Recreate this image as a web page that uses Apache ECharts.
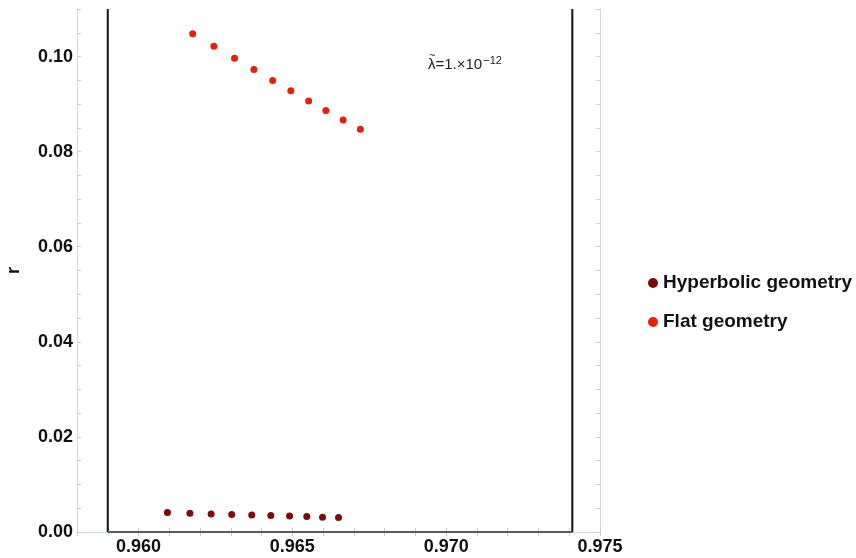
<!DOCTYPE html>
<html>
<head>
<meta charset="utf-8">
<script src="https://cdn.jsdelivr.net/npm/echarts@6/dist/echarts.min.js"></script>
<style>html,body{margin:0;padding:0;background:#fff;}#c{width:856px;height:558px;}</style>
</head>
<body>
<div id="c"></div>
<script>
// Data
const seriesNames = ['Hyperbolic geometry', 'Flat geometry'];
const hypNs = [0.96094, 0.96167, 0.96236, 0.96303, 0.96368, 0.96430, 0.96491, 0.96547, 0.96598, 0.96650];
const hypR  = [0.00408, 0.00394, 0.00379, 0.00366, 0.00358, 0.00345, 0.00337, 0.00324, 0.00309, 0.00303];
const flatNs = [0.96176, 0.96245, 0.96312, 0.96375, 0.96436, 0.96495, 0.96553, 0.96609, 0.96665, 0.96721];
const flatR  = [0.10478, 0.10219, 0.09966, 0.09726, 0.09495, 0.09278, 0.09067, 0.08863, 0.08667, 0.08472];
const boundNs = [0.959, 0.9741];   // vertical bounds
const xRange = [0.958, 0.975];
const yRange = [0, 0.11];
const annotation = ['λ', '=1.×10', '−12', '~'];

const zip = (a, b) => a.map((v, i) => [v, b[i]]);
const font = '"Liberation Sans", Arial, sans-serif';
const frameColor = '#d4d7dd';
const tickStyle = { show: true, inside: true, length: 4, lineStyle: { color: '#c8ccd3', width: 1 } };
const labelStyle = { fontFamily: font, fontWeight: 'bold', fontSize: 18, color: '#111' };

const chart = echarts.init(document.getElementById('c'), null, { renderer: 'canvas' });
chart.setOption({
  animation: false,
  backgroundColor: '#fff',
  grid: { left: 77, right: 256, top: 9, bottom: 26, show: false, containLabel: false, outerBoundsMode: 'none' },
  xAxis: [
    {
      type: 'value', min: xRange[0], max: xRange[1], interval: 0.001, position: 'bottom',
      axisLine: { show: true, lineStyle: { color: frameColor, width: 1 } },
      axisTick: tickStyle, splitLine: { show: false },
      axisLabel: Object.assign({ margin: 6, formatter: v => (Math.round(v * 1000) % 5 === 0 ? v.toFixed(3) : '') }, labelStyle)
    },
    {
      type: 'value', min: xRange[0], max: xRange[1], interval: 0.001, position: 'top',
      axisLine: { show: true, lineStyle: { color: frameColor, width: 1 } },
      axisTick: tickStyle, splitLine: { show: false }, axisLabel: { show: false }
    }
  ],
  yAxis: [
    {
      type: 'value', min: yRange[0], max: yRange[1], interval: 0.005, position: 'left',
      name: 'r', nameLocation: 'middle', nameRotate: 90, nameGap: 54,
      nameTextStyle: { fontFamily: font, fontWeight: 'bold', fontSize: 18, color: '#111' },
      axisLine: { show: true, lineStyle: { color: frameColor, width: 1 } },
      axisTick: tickStyle, splitLine: { show: false },
      axisLabel: Object.assign({ margin: 4, formatter: v => (Math.round(v * 1000) % 20 === 0 ? v.toFixed(2) : '') }, labelStyle)
    },
    {
      type: 'value', min: yRange[0], max: yRange[1], interval: 0.005, position: 'right',
      axisLine: { show: true, lineStyle: { color: frameColor, width: 1 } },
      axisTick: tickStyle, splitLine: { show: false }, axisLabel: { show: false }
    }
  ],
  legend: {
    data: seriesNames.map(n => ({ name: n, icon: 'circle' })),
    orient: 'vertical', left: 643, top: 268,
    itemWidth: 10, itemHeight: 10, itemGap: 19, itemTextGap: 10,
    textStyle: { fontFamily: font, fontWeight: 'bold', fontSize: 19, color: '#111', lineHeight: 20 }
  },
  graphic: [
    {
      type: 'text', left: 428, top: 55,
      style: {
        rich: {
          a: { fontFamily: font, fontSize: 15, fill: '#222' },
          s: { fontFamily: font, fontSize: 11, fill: '#222', verticalAlign: 'top', padding: [0, 0, 8, 1] }
        },
        text: '{a|' + annotation[0] + annotation[1] + '}{s|' + annotation[2] + '}'
      }
    },
    {
      type: 'text', left: 429, top: 50,
      style: { text: annotation[3], fontFamily: font, fontSize: 11, fill: '#222' }
    }
  ],
  series: [
    {
      name: 'bounds', type: 'line', xAxisIndex: 0, yAxisIndex: 0, silent: true, symbol: 'none',
      lineStyle: { color: '#111', width: 2 }, clip: false,
      data: [[boundNs[0], yRange[1]], [boundNs[0], yRange[0]]]
    },
    {
      name: 'bounds2', type: 'line', xAxisIndex: 0, yAxisIndex: 0, silent: true, symbol: 'none',
      lineStyle: { color: '#111', width: 2 }, clip: false,
      data: [[boundNs[1], yRange[1]], [boundNs[1], yRange[0]]]
    },
    {
      name: 'bottom', type: 'line', xAxisIndex: 0, yAxisIndex: 0, silent: true, symbol: 'none',
      lineStyle: { color: '#55596a', width: 2 }, clip: false,
      data: [[boundNs[0], yRange[0]], [boundNs[1], yRange[0]]]
    },
    {
      name: seriesNames[0], type: 'scatter', xAxisIndex: 0, yAxisIndex: 0,
      symbol: 'circle', symbolSize: 7,
      itemStyle: { color: '#7d0a0c', opacity: 1 },
      data: zip(hypNs, hypR)
    },
    {
      name: seriesNames[1], type: 'scatter', xAxisIndex: 0, yAxisIndex: 0,
      symbol: 'circle', symbolSize: 7,
      itemStyle: { color: '#e5210e', opacity: 1 },
      data: zip(flatNs, flatR)
    }
  ]
});
</script>
</body>
</html>
